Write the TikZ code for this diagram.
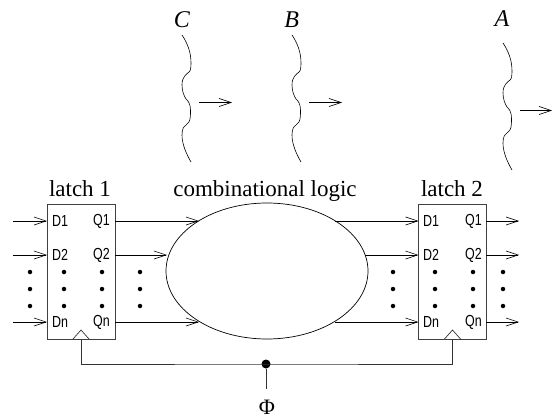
\documentclass[tikz,border=0pt]{standalone}
\usepackage{fontspec}
\setmainfont{Liberation Serif}
\newfontfamily\pinfont[FakeStretch=0.78]{Liberation Sans}
\usetikzlibrary{arrows.meta, positioning, shapes.geometric}
\tikzset{
  sig/.style={-{Straight Barb[length=12pt,width=8pt]}, line width=0.6pt},
  wire/.style={line width=0.7pt, draw=black!80},
  latchbox/.style={draw=black!75, line width=0.9pt, minimum width=68pt, minimum height=135pt, inner sep=0pt},
  pin/.style={font=\pinfont\fontsize{16}{16}\selectfont, inner sep=0pt},
  title/.style={font=\fontsize{23}{23}\selectfont, inner sep=0pt, anchor=base},
  wavelabel/.style={font=\itshape\fontsize{24}{24}\selectfont, inner sep=0pt, anchor=base},
  vdot/.style={circle, fill=black, inner sep=0pt, minimum size=4.5pt},
}
% one wave front, with its arrow
\newcommand{\wavefront}[4]{
  \begin{scope}[shift={(#1,#2)}]
    \draw[line width=0.6pt] (0,0) .. controls (6,9) and (9,18) .. (9,28)
      .. controls (9,33) and (8.5,36) .. (7,37)
      .. controls (4,39.5) and (0,42) .. (0,50)
      .. controls (0,56) and (2,61) .. (4,64)
      .. controls (6,66) and (8.5,68) .. (8.5,76)
      .. controls (8.5,84) and (8,87) .. (5,89)
      .. controls (2,91) and (0,93) .. (0,100)
      .. controls (0,110) and (5,120) .. (9,127);
    \coordinate (#3s) at (17,67.5);
    \coordinate (#3e) at (#4,67.5);
    \draw[sig] (#3s) -- (#3e);
  \end{scope}
}
\begin{document}
\begin{tikzpicture}[x=1pt, y=-1pt]
    \useasboundingbox (0,0) rectangle (552,420);

    \node[wavelabel] (labelC) at (182,27.3) {C};
    \node[wavelabel] (labelB) at (291.7,27.3) {B};
    \node[wavelabel] (labelA) at (502,26.7) {A};
    \wavefront{182}{35}{waveC}{50}
    \wavefront{292}{35}{waveB}{50}
    \wavefront{503}{43}{waveA}{49}

    \node[latchbox] (latchone) at (81,271.5) {};
    \node[latchbox] (latchtwo) at (452.5,271.5) {};
    \node[title] (titleone) at (80,196) {latch 1};
    \node[title] (titletwo) at (452,196) {latch 2};
    \node[draw, ellipse, line width=0.7pt, minimum width=202pt, minimum height=136pt, inner sep=0pt] (logic) at (267,271) {};
    \node[title] (titlelogic) at (265,196) {combinational logic};

    \foreach \row/\ypos/\name in {1/221/1, 2/255/2, 3/322/n} {
      \node[pin, anchor=west] (dl\row) at (52,\ypos) {D\name};
      \node[pin, anchor=east] (ql\row) at (110,\ypos) {Q\name};
      \node[pin, anchor=west] (dr\row) at (423,\ypos) {D\name};
      \node[pin, anchor=east] (qr\row) at (482,\ypos) {Q\name};
      \coordinate (inl\row) at (13,\ypos);
      \coordinate (outr\row) at (519,\ypos);
      \coordinate (linel\row) at (115,\ypos);
      \coordinate (liner\row) at (486,\ypos);
      \coordinate (boxl\row) at (47,\ypos);
      \coordinate (boxr\row) at (418.5,\ypos);
      \draw[sig] (inl\row) -- (boxl\row);
      \draw[sig] (liner\row) -- (outr\row);
    }
    \coordinate (tipone) at (199,221);
    \coordinate (tiptwo) at (167,255);
    \coordinate (tipthree) at (199,322);
    \coordinate (fromone) at (335,221);
    \coordinate (fromtwo) at (365,255);
    \coordinate (fromthree) at (335,322);
    \draw[sig] (linel1) -- (tipone);
    \draw[sig] (linel2) -- (tiptwo);
    \draw[sig] (linel3) -- (tipthree);
    \draw[sig] (fromone) -- (boxr1);
    \draw[sig] (fromtwo) -- (boxr2);
    \draw[sig] (fromthree) -- (boxr3);

    \foreach \xpos in {30,64,102,140,393,435,473,503} {
      \foreach \ypos in {272,289,306} {
        \node[vdot] (dot\xpos-\ypos) at (\xpos,\ypos) {};
      }
    }

    % clock
    \coordinate (clkone) at (81,339);
    \coordinate (clktwo) at (452.5,339);
    \draw[wire] (73,339) -- (81,330) -- (89,339);
    \draw[wire] (444.5,339) -- (452.5,330) -- (460.5,339);
    \node[circle, fill=black, inner sep=0pt, minimum size=9pt] (join) at (266,364) {};
    \node[font=\fontsize{22}{22}\selectfont, inner sep=0pt, anchor=base] (phi) at (267,414) {Φ};
    \coordinate (phiend) at (266,389);
    \draw[wire] (clkone) |- (join.center) -| (clktwo);
    \draw[wire] (join) -- (phiend);
\end{tikzpicture}
\end{document}
